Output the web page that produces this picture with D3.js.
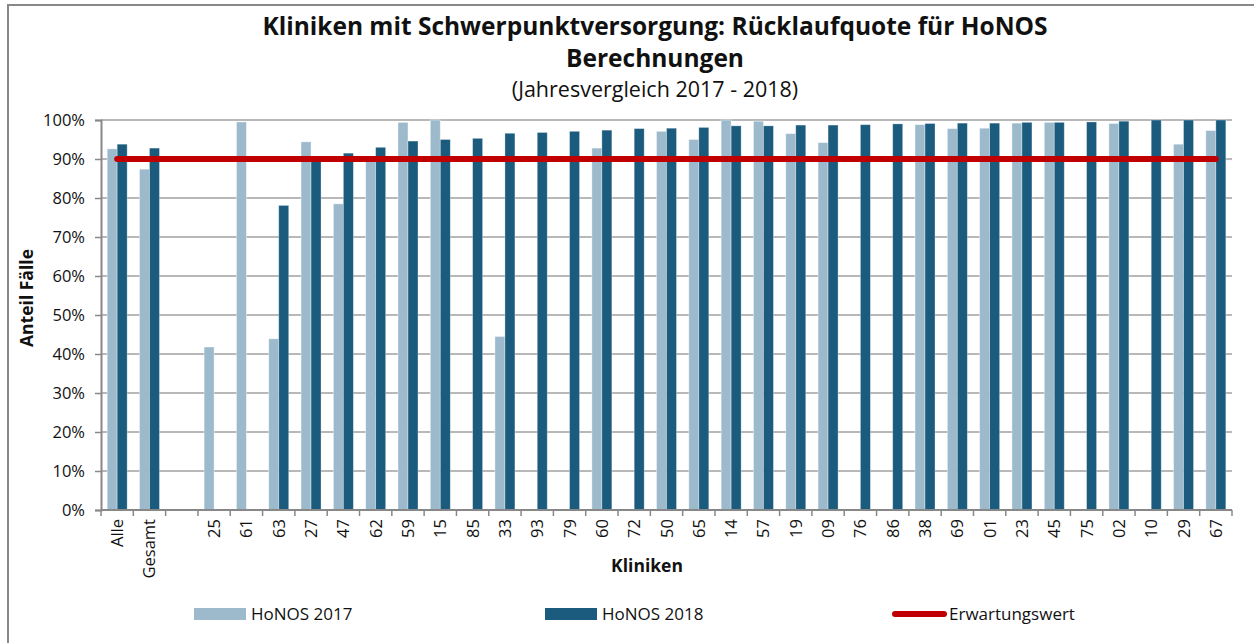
<!DOCTYPE html>
<html><head><meta charset="utf-8">
<script src="https://cdn.jsdelivr.net/npm/d3@7/dist/d3.min.js"></script>
<style>body{margin:0;background:#fff;}svg{display:block;font-family:"Open Sans","Noto Sans",sans-serif;}</style>
</head><body>
<svg id="c" width="1254" height="643"></svg>
<script>
const categories = ["Alle","Gesamt","","25","61","63","27","47","62","59","15","85","33","93","79","60","72","50","65","14","57","19","09","76","86","38","69","01","23","45","75","02","10","29","67"];
const honos2017 = [92.6,87.4,null,41.8,99.5,43.9,94.4,78.5,89.5,99.4,100,null,44.5,null,null,92.8,null,97.1,95.0,100,99.7,96.5,94.2,null,null,98.8,97.8,97.9,99.2,99.4,null,99.1,null,93.8,97.3];
const honos2018 = [93.8,92.8,null,null,null,78.1,89.8,91.5,93.0,94.6,95.0,95.3,96.6,96.8,97.1,97.4,97.8,97.9,98.1,98.5,98.5,98.7,98.7,98.8,99.0,99.1,99.2,99.2,99.4,99.4,99.5,99.7,100,100,100];
const expected = 90;
const yTicks = [0,10,20,30,40,50,60,70,80,90,100];
const seriesNames = ["HoNOS 2017","HoNOS 2018","Erwartungswert"];
const colors = ["#9cbacb","#1b5b7e","#c00000"];

const svg = d3.select("#c");
const L = 101, R = 1232, T = 120, B = 510;
const x = d3.scaleBand().domain(categories.map((d,i)=>i)).range([L,R]).padding(0);
const y = d3.scaleLinear().domain([0,100]).range([B,T]);

// outer frame (left and top)
svg.append("path").attr("d",`M8,643 L8,5 L1260,5`).attr("fill","none").attr("stroke","#888").attr("stroke-width",2);

// gridlines
svg.append("g").selectAll("line").data(yTicks.filter(d=>d>0)).join("line")
  .attr("x1",L).attr("x2",R).attr("y1",d=>y(d)).attr("y2",d=>y(d))
  .attr("stroke","#a0a0a0").attr("stroke-width",1.5);

// bars
const bw = 10;
const g17 = svg.append("g"), g18 = svg.append("g");
g17.selectAll("rect").data(honos2017.map((v,i)=>({v,i})).filter(d=>d.v!=null)).join("rect")
  .attr("x",d=>x(d.i)+x.bandwidth()/2-bw).attr("width",bw)
  .attr("y",d=>y(d.v)).attr("height",d=>B-y(d.v))
  .attr("fill",colors[0]).attr("stroke","rgba(255,255,255,0.5)").attr("stroke-width",0.8);
g18.selectAll("rect").data(honos2018.map((v,i)=>({v,i})).filter(d=>d.v!=null)).join("rect")
  .attr("x",d=>x(d.i)+x.bandwidth()/2).attr("width",bw)
  .attr("y",d=>y(d.v)).attr("height",d=>B-y(d.v))
  .attr("fill",colors[1]).attr("stroke","rgba(255,255,255,0.4)").attr("stroke-width",0.8);

// expected line
const line = d3.line().x(d=>x(d.i)+x.bandwidth()/2).y(d=>y(d.v));
svg.append("path").datum(categories.map((c,i)=>({i,v:expected})))
  .attr("d",line).attr("fill","none").attr("stroke",colors[2]).attr("stroke-width",6).attr("stroke-linecap","round");

// y axis
const yAxis = d3.axisLeft(y).tickValues(yTicks).tickFormat(d=>d+"%").tickSize(6).tickPadding(10);
const ga = svg.append("g").attr("transform",`translate(${L},0)`).call(yAxis);
ga.select(".domain").attr("stroke","#888").attr("stroke-width",2);
ga.selectAll(".tick line").attr("stroke","#888").attr("stroke-width",1.5);
ga.selectAll("text").attr("font-size",16.5).attr("fill","#111").attr("font-family","Open Sans");

// x axis
const xg = svg.append("g").attr("transform",`translate(0,${B})`);
xg.append("line").attr("x1",L).attr("x2",R).attr("stroke","#888").attr("stroke-width",2);
xg.selectAll("line.t").data(d3.range(categories.length+1)).join("line").attr("class","t")
  .attr("x1",i=>L+i*x.bandwidth()).attr("x2",i=>L+i*x.bandwidth()).attr("y1",0).attr("y2",6)
  .attr("stroke","#888").attr("stroke-width",1.5);
xg.selectAll("text").data(categories.map((c,i)=>({c,i}))).join("text")
  .attr("transform",d=>`translate(${x(d.i)+x.bandwidth()/2+6},9) rotate(-90)`)
  .attr("text-anchor","end").attr("font-size",16.5).attr("fill","#111").text(d=>d.c);

// axis titles
svg.append("text").attr("transform","translate(33,298) rotate(-90)").attr("text-anchor","middle")
  .attr("font-weight","bold").attr("font-size",17.5).attr("fill","#111").text("Anteil Fälle");
svg.append("text").attr("x",647).attr("y",572).attr("text-anchor","middle")
  .attr("font-weight","bold").attr("font-size",17.5).attr("fill","#111").text("Kliniken");

// title
svg.append("text").attr("x",655).attr("y",35).attr("text-anchor","middle").attr("font-weight","bold").attr("font-size",24.5).attr("fill","#111")
  .text("Kliniken mit Schwerpunktversorgung: Rücklaufquote für HoNOS");
svg.append("text").attr("x",655).attr("y",67).attr("text-anchor","middle").attr("font-weight","bold").attr("font-size",24.5).attr("fill","#111")
  .text("Berechnungen");
svg.append("text").attr("x",655).attr("y",97).attr("text-anchor","middle").attr("font-size",21.5).attr("fill","#111")
  .text("(Jahresvergleich 2017 - 2018)");

// legend
const lg = svg.append("g");
const lx = [194,545,892];
lg.append("rect").attr("x",lx[0]).attr("y",608).attr("width",52).attr("height",12).attr("fill",colors[0]);
lg.append("rect").attr("x",lx[1]).attr("y",608).attr("width",52).attr("height",12).attr("fill",colors[1]);
lg.append("line").attr("x1",lx[2]+3).attr("x2",lx[2]+52).attr("y1",614).attr("y2",614).attr("stroke",colors[2]).attr("stroke-width",6).attr("stroke-linecap","round");
lg.selectAll("text").data(seriesNames).join("text").attr("x",(d,i)=>lx[i]+57).attr("y",620)
  .attr("font-size",17).attr("fill","#111").text(d=>d);
</script>
</body></html>
